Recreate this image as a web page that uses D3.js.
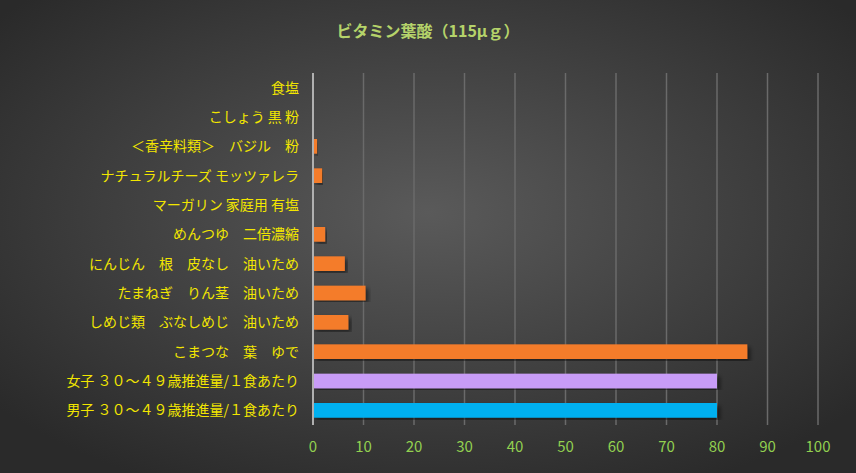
<!DOCTYPE html><html><head><meta charset="utf-8"><script src="https://cdn.jsdelivr.net/npm/d3@7"></script>
<style>body{margin:0}</style></head><body><svg id="c" width="856" height="473"></svg><script>
const categories=["食塩","こしょう 黒 粉","＜香辛料類＞　バジル　粉","ナチュラルチーズ モッツァレラ","マーガリン 家庭用 有塩","めんつゆ　二倍濃縮","にんじん　根　皮なし　油いため","たまねぎ　りん茎　油いため","しめじ類　ぶなしめじ　油いため","こまつな　葉　ゆで","女子 ３０～４９歳推進量/１食あたり","男子 ３０～４９歳推進量/１食あたり"];
const values=[0,0,0.8,1.8,0,2.4,6.3,10.4,7,86,80,80];
const colors=["#f47b2a","#f47b2a","#f47b2a","#f47b2a","#f47b2a","#f47b2a","#f47b2a","#f47b2a","#f47b2a","#f47b2a","#c89cf7","#00b0f0"];
const ticks=[0,10,20,30,40,50,60,70,80,90,100];
const svg=d3.select("#c");
const defs=svg.append("defs");
const g=defs.append("radialGradient").attr("id","bg").attr("cx","50%").attr("cy","45%").attr("r","65%");
g.append("stop").attr("offset","0%").attr("stop-color","#5a5a5a");
g.append("stop").attr("offset","100%").attr("stop-color","#2a2a2a");
const f=defs.append("filter").attr("id","sh");
f.append("feDropShadow").attr("dx",3).attr("dy",3).attr("stdDeviation",2).attr("flood-color","#000").attr("flood-opacity",0.5);
svg.append("rect").attr("width",856).attr("height",473).attr("fill","url(#bg)");
const x=d3.scaleLinear().domain([0,100]).range([313,818]);
const y=d3.scaleBand().domain(categories).range([73,425]).paddingInner(0.5).paddingOuter(0.25);
svg.append("g").selectAll("line").data(ticks.slice(1)).join("line").attr("x1",x).attr("x2",x).attr("y1",73).attr("y2",425).attr("stroke","#6a6a6a").attr("stroke-width",1.5);
svg.append("g").selectAll("rect").data(categories).join("rect").attr("x",x(0)).attr("y",d=>y(d)).attr("height",y.bandwidth()).attr("width",(d,i)=>x(values[i])-x(0)).attr("fill",(d,i)=>colors[i]).attr("filter","url(#sh)");
svg.append("line").attr("x1",x(0)).attr("x2",x(0)).attr("y1",73).attr("y2",425).attr("stroke","#b0b0b0").attr("stroke-width",2);
svg.append("g").selectAll("text").data(ticks).join("text").attr("x",x).attr("y",452).attr("text-anchor","middle").attr("fill","#92d050").attr("font-size",15).attr("font-family","Noto Sans CJK JP").text(d=>d);
svg.append("g").selectAll("text").data(categories).join("text").attr("x",299).attr("y",d=>y(d)+y.bandwidth()/2).attr("dy","0.35em").attr("text-anchor","end").attr("fill","#f2e600").attr("font-size",14).attr("font-family","Noto Sans CJK JP").text(d=>d);
svg.append("text").attr("x",428).attr("y",37).attr("text-anchor","middle").attr("fill","#b5d36a").attr("font-size",16).attr("font-weight","bold").attr("font-family","Noto Sans CJK JP").text("ビタミン葉酸（115μｇ）");
</script></body></html>
